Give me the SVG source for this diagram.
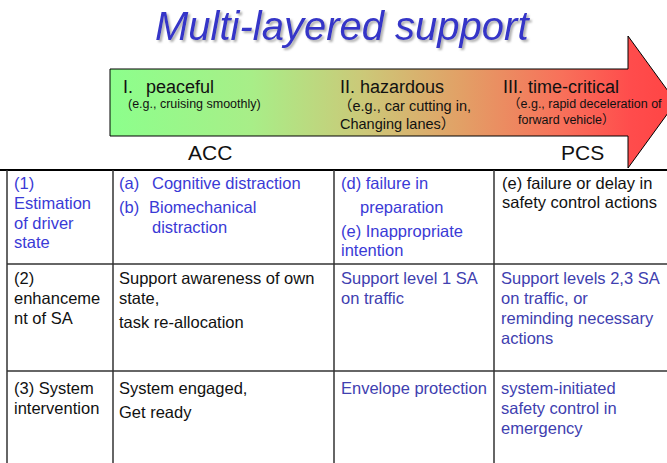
<svg xmlns="http://www.w3.org/2000/svg" width="667" height="463" viewBox="0 0 667 463">
<defs>
<linearGradient id="arrowGrad" gradientUnits="userSpaceOnUse" x1="110" y1="0" x2="676" y2="0">
<stop offset="0" stop-color="#8CFF8C"/>
<stop offset="0.25" stop-color="#A8EE88"/>
<stop offset="0.45" stop-color="#CCC878"/>
<stop offset="0.62" stop-color="#E2A066"/>
<stop offset="0.8" stop-color="#F8705A"/>
<stop offset="0.92" stop-color="#FF4C4C"/>
<stop offset="1" stop-color="#FF4444"/>
</linearGradient>
<filter id="titleShadow" x="-5%" y="-20%" width="110%" height="150%">
<feDropShadow dx="2" dy="2" stdDeviation="0.8" flood-color="#999999" flood-opacity="0.8"/>
</filter>
<style>
text{font-family:"Liberation Sans",Arial,"Noto Sans CJK JP",sans-serif;}
.title{font-size:40px;font-style:italic;fill:#3535C8;}
.stage{font-size:18px;fill:#111;}
.sub{font-size:12.5px;fill:#111;}
.sub2{font-size:14.5px;fill:#111;}
.sys{font-size:21px;fill:#111;}
.t{font-size:16.5px;fill:#111;}
.b1{fill:#3A3AD6;}
.b2{fill:#4040B0;}
.grid{stroke:#333333;stroke-width:1.5;fill:none;}
</style>
</defs>
<rect width="667" height="463" fill="#FFFFFF"/>
<g id="title">
<text class="title" x="155" y="40" filter="url(#titleShadow)">Multi-layered support</text>
</g>
<g id="arrow">
<path d="M110,69 L628,69 L628,36 L676,102 L628,168 L628,136 L110,136 Z" fill="url(#arrowGrad)" stroke="#000" stroke-width="1"/>
<text class="stage" x="123" y="93">I.</text>
<text class="stage" x="146" y="93">peaceful</text>
<text class="sub" x="128" y="108">(e.g., cruising smoothly)</text>
<text class="stage" x="340" y="93">II. hazardous</text>
<text class="sub2" x="338" y="111">（e.g., car cutting in,</text>
<text class="sub2" x="340" y="129">Changing lanes）</text>
<text class="stage" x="503" y="93">III. time-critical</text>
<text class="sub" x="508" y="108">（e.g., rapid deceleration of</text>
<text class="sub" x="518" y="124">forward vehicle）</text>
</g>
<g id="systems">
<text class="sys" x="188" y="160">ACC</text>
<text class="sys" x="561" y="160">PCS</text>
</g>
<g id="table-grid" class="grid">
<line x1="0" y1="170" x2="667" y2="170" stroke="#000" stroke-width="2"/>
<line x1="7" y1="264" x2="667" y2="264"/>
<line x1="7" y1="371" x2="667" y2="371"/>
<line x1="7" y1="170" x2="7" y2="463"/>
<line x1="113" y1="170" x2="113" y2="463"/>
<line x1="334" y1="170" x2="334" y2="463"/>
<line x1="494" y1="170" x2="494" y2="463"/>
</g>
<g id="row1-head">
<text class="t b1" x="14" y="189">(1)</text>
<text class="t b1" x="14" y="209">Estimation</text>
<text class="t b1" x="14" y="229">of driver</text>
<text class="t b1" x="14" y="248">state</text>
</g>
<g id="row1-peaceful">
<text class="t b1" x="119" y="189">(a)</text>
<text class="t b1" x="152" y="189">Cognitive distraction</text>
<text class="t b1" x="119" y="213">(b)</text>
<text class="t b1" x="149" y="213">Biomechanical</text>
<text class="t b1" x="152" y="233">distraction</text>
</g>
<g id="row1-hazardous">
<text class="t b1" x="341" y="189">(d) failure in</text>
<text class="t b1" x="360" y="213">preparation</text>
<text class="t b1" x="341" y="237">(e) Inappropriate</text>
<text class="t b1" x="341" y="256">intention</text>
</g>
<g id="row1-critical">
<text class="t" x="502" y="189">(e) failure or delay in</text>
<text class="t" x="502" y="208">safety control actions</text>
</g>
<g id="row2-head">
<text class="t" x="14" y="284">(2)</text>
<text class="t" x="14" y="304">enhanceme</text>
<text class="t" x="14" y="324">nt of SA</text>
</g>
<g id="row2-peaceful">
<text class="t" x="119" y="284">Support awareness of own</text>
<text class="t" x="119" y="304">state,</text>
<text class="t" x="119" y="328">task re-allocation</text>
</g>
<g id="row2-hazardous">
<text class="t b2" x="341" y="284">Support level 1 SA</text>
<text class="t b2" x="341" y="304">on traffic</text>
</g>
<g id="row2-critical">
<text class="t b2" x="501" y="284">Support levels 2,3 SA</text>
<text class="t b2" x="501" y="304">on traffic, or</text>
<text class="t b2" x="501" y="324">reminding necessary</text>
<text class="t b2" x="501" y="344">actions</text>
</g>
<g id="row3-head">
<text class="t" x="14" y="394">(3) System</text>
<text class="t" x="14" y="414">intervention</text>
</g>
<g id="row3-peaceful">
<text class="t" x="119" y="394">System engaged,</text>
<text class="t" x="119" y="418">Get ready</text>
</g>
<g id="row3-hazardous">
<text class="t b2" x="341" y="394">Envelope protection</text>
</g>
<g id="row3-critical">
<text class="t b2" x="501" y="394">system-initiated</text>
<text class="t b2" x="501" y="414">safety control in</text>
<text class="t b2" x="501" y="434">emergency</text>
</g>
</svg>
